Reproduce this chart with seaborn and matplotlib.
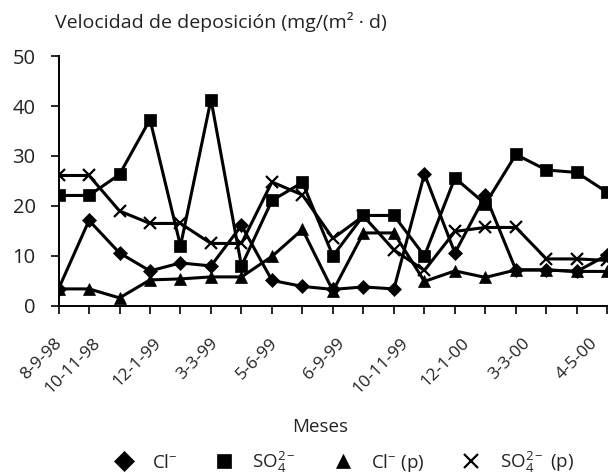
import matplotlib
matplotlib.use("Agg")
import matplotlib.pyplot as plt
from matplotlib.lines import Line2D
import seaborn as sns
import numpy as np

# Sampling positions (one per sampling campaign) and the date labels shown on the axis
n_samples = 19
date_labels = ["8-9-98", "10-11-98", "12-1-99", "3-3-99", "5-6-99",
               "6-9-99", "10-11-99", "12-1-00", "3-3-00", "4-5-00"]
label_pos = [0.03, 1.3, 3.3, 5.15, 7.1, 9.3, 11.4, 13.4, 15.4, 17.6]

# Deposition rates, mg/(m2 d)
cl = [3.4, 17.1, 10.6, 7.0, 8.6, 8.0, 16.1, 5.1, 3.9, 3.3,
      3.8, 3.4, 26.4, 10.6, 22.1, 7.2, 7.2, 6.9, 10.2]
so4 = [22.1, 22.1, 26.3, 37.3, 12.0, 41.3, 8.0, 21.1, 24.7, 10.0,
       18.1, 18.1, 10.0, 25.6, 20.4, 30.3, 27.2, 26.7, 22.7]
cl_p = [3.4, 3.4, 1.6, 5.2, 5.4, 5.8, 5.8, 9.9, 15.3, 3.0,
        14.6, 14.6, 4.9, 7.0, 5.7, 7.2, 7.2, 6.9, 6.9]
so4_p = [26.1, 26.1, 19.0, 16.5, 16.5, 12.5, 12.5, 24.8, 22.2, 13.5,
         18.0, 11.2, 7.1, 14.9, 15.7, 15.7, 9.4, 9.4, 9.1]

sns.set_style("ticks")
plt.rcParams["font.family"] = ["Open Sans", "DejaVu Sans"]
plt.rcParams["mathtext.fontset"] = "custom"
plt.rcParams["mathtext.rm"] = "Open Sans"
plt.rcParams["mathtext.it"] = "Open Sans"
plt.rcParams["mathtext.default"] = "rm"

fig = plt.figure(figsize=(6.16, 4.75), dpi=100)
ax = fig.add_axes([0.095, 0.356, 0.891, 0.526])

x = np.arange(n_samples)
series = [
    (cl, "D", 7.5, "Cl$^{-}$"),
    (so4, "s", 9.0, "SO$_4^{2-}$"),
    (cl_p, "^", 9.0, "Cl$^{-}$ (p)"),
    (so4_p, "x", 9.0, "SO$_4^{2-}$ (p)"),
]
for vals, mk, ms, lab in series:
    sns.lineplot(x=x, y=vals, ax=ax, color="black", lw=2.2, marker=mk,
                 markersize=ms, mec="black", mfc="black",
                 mew=1.6 if mk == "x" else 0.5, legend=False)

ax.set_xlim(0, n_samples - 1)
ax.set_ylim(0, 50)
ax.set_yticks([0, 10, 20, 30, 40, 50])
ax.set_xticks(x)
ax.set_xticklabels([])
ax.tick_params(axis="both", direction="out", length=6, width=1.2,
               colors="black", labelsize=14.5, pad=10.5)
ax.tick_params(axis="x", labelbottom=False)
for s in ["top", "right"]:
    ax.spines[s].set_visible(False)
for s in ["left", "bottom"]:
    ax.spines[s].set_linewidth(1.4)
    ax.spines[s].set_color("black")
ax.set_xlabel("")
ax.set_ylabel("")
for lbl in ax.get_yticklabels():
    lbl.set_color("#222222")

# Rotated date labels
for p, t in zip(label_pos, date_labels):
    ax.text(p, -0.14, t, transform=ax.get_xaxis_transform(), rotation=45,
            rotation_mode="anchor", ha="right", va="center", fontsize=12.5,
            color="#222222")

fig.text(55 / 616, 1 - 22 / 475, "Velocidad de deposición (mg/(m² · d)",
         ha="left", va="center", fontsize=14, color="#222222")
fig.text(320 / 616, 1 - 427 / 475, "Meses", ha="center", va="center",
         fontsize=13.5, color="#222222")

handles = [Line2D([], [], ls="none", marker=mk, color="black",
                  markersize=ms + (2.5 if mk == "D" else 1.5),
                  mew=1.6 if mk == "x" else 0.5)
           for _, mk, ms, _ in series]
labels = [lab for *_, lab in series]
fig.legend(handles, labels, loc="center", bbox_to_anchor=(0.557, 1 - 462 / 475),
           ncol=4, frameon=False, fontsize=13.5, handlelength=1.2,
           handletextpad=0.9, columnspacing=1.9, labelcolor="#222222")

fig.savefig("out.png", dpi=100)
